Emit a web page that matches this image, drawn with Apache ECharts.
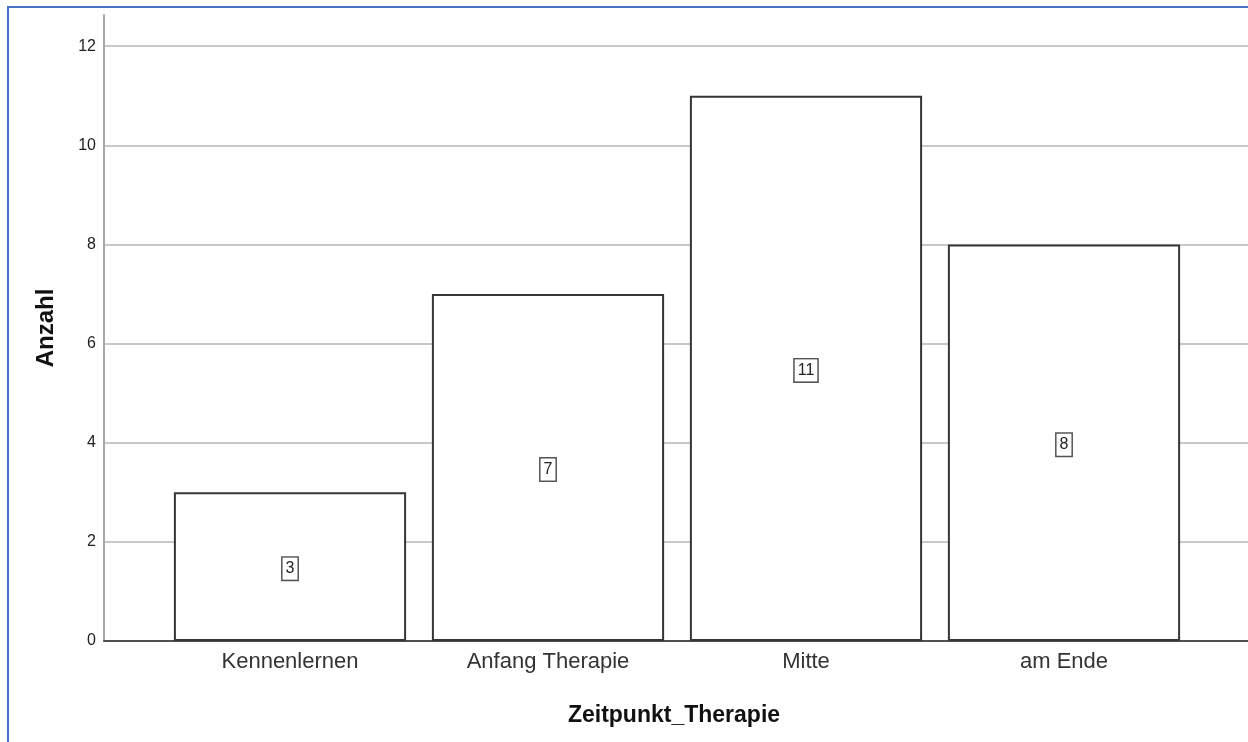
<!DOCTYPE html>
<html>
<head>
<meta charset="utf-8">
<script src="https://cdn.jsdelivr.net/npm/echarts@6/dist/echarts.min.js"></script>
<style>
html,body{margin:0;padding:0;background:#fff;}
#chart{width:1248px;height:742px;position:absolute;left:0;top:0;}
#frame{position:absolute;left:7px;top:6px;width:1260px;height:760px;border-left:2px solid #4472c4;border-top:2px solid #4472c4;pointer-events:none;}
</style>
</head>
<body>
<div id="chart"></div>
<div id="frame"></div>
<script>
const categories = ['Kennenlernen', 'Anfang Therapie', 'Mitte', 'am Ende'];
const counts = [3, 7, 11, 8];
const yTickLabels = ['0', '2', '4', '6', '8', '10', '12'];
const xTitle = 'Zeitpunkt_Therapie';
const yTitle = 'Anzahl';

const FONT = '"Liberation Sans", Arial, sans-serif';
const Y_MAX = 12.63;

const chart = echarts.init(document.getElementById('chart'), null, {renderer: 'canvas'});
chart.setOption({
  animation: false,
  backgroundColor: '#ffffff',
  grid: [
    {left: 104, right: -10, top: 15, bottom: 101},
    {left: 161, right: 55, top: 15, bottom: 101}
  ],
  xAxis: [
    {
      type: 'category', gridIndex: 0, data: categories,
      axisLine: {show: true, lineStyle: {color: '#505050', width: 2}},
      axisTick: {show: false}, axisLabel: {show: false}, splitLine: {show: false},
      name: xTitle, nameLocation: 'middle', nameGap: 63,
      nameTextStyle: {fontFamily: FONT, fontSize: 23, fontWeight: 'bold', color: '#111111', padding: [0, 4, 0, 0]}
    },
    {
      type: 'category', gridIndex: 1, data: categories,
      axisLine: {show: false}, axisTick: {show: false},
      axisLabel: {fontFamily: FONT, fontSize: 22, color: '#333333', margin: 10}
    }
  ],
  yAxis: [
    {
      type: 'value', gridIndex: 0, min: 0, max: Y_MAX, interval: 2,
      axisLine: {show: true, lineStyle: {color: '#a8a8a8', width: 2}},
      axisTick: {show: false},
      axisLabel: {
        fontFamily: FONT, fontSize: 16, color: '#222222', margin: 8, showMaxLabel: false,
        formatter: function (v) { const i = Math.round(v / 2); return (Math.abs(v - i * 2) < 1e-6 && yTickLabels[i] !== undefined) ? yTickLabels[i] : ''; }
      },
      splitLine: {show: true, showMaxLine: false, showMinLine: false, lineStyle: {color: '#c8c8c8', width: 2}},
      name: yTitle, nameLocation: 'middle', nameGap: 46,
      nameTextStyle: {fontFamily: FONT, fontSize: 24, fontWeight: 'bold', color: '#111111'}
    },
    {
      type: 'value', gridIndex: 1, min: 0, max: Y_MAX, interval: 2,
      show: false, splitLine: {show: false}
    }
  ],
  series: [
    {
      type: 'bar', xAxisIndex: 1, yAxisIndex: 1,
      data: counts,
      barCategoryGap: '10%',
      itemStyle: {color: '#ffffff', borderColor: '#363636', borderWidth: 2},
      label: {
        show: true, position: 'inside', offset: [0, 2],
        fontFamily: FONT, fontSize: 16, color: '#222222',
        backgroundColor: '#ffffff', borderColor: '#555555', borderWidth: 1.5,
        padding: [3, 3, 3, 3]
      },
      z: 3
    }
  ]
});
</script>
</body>
</html>
